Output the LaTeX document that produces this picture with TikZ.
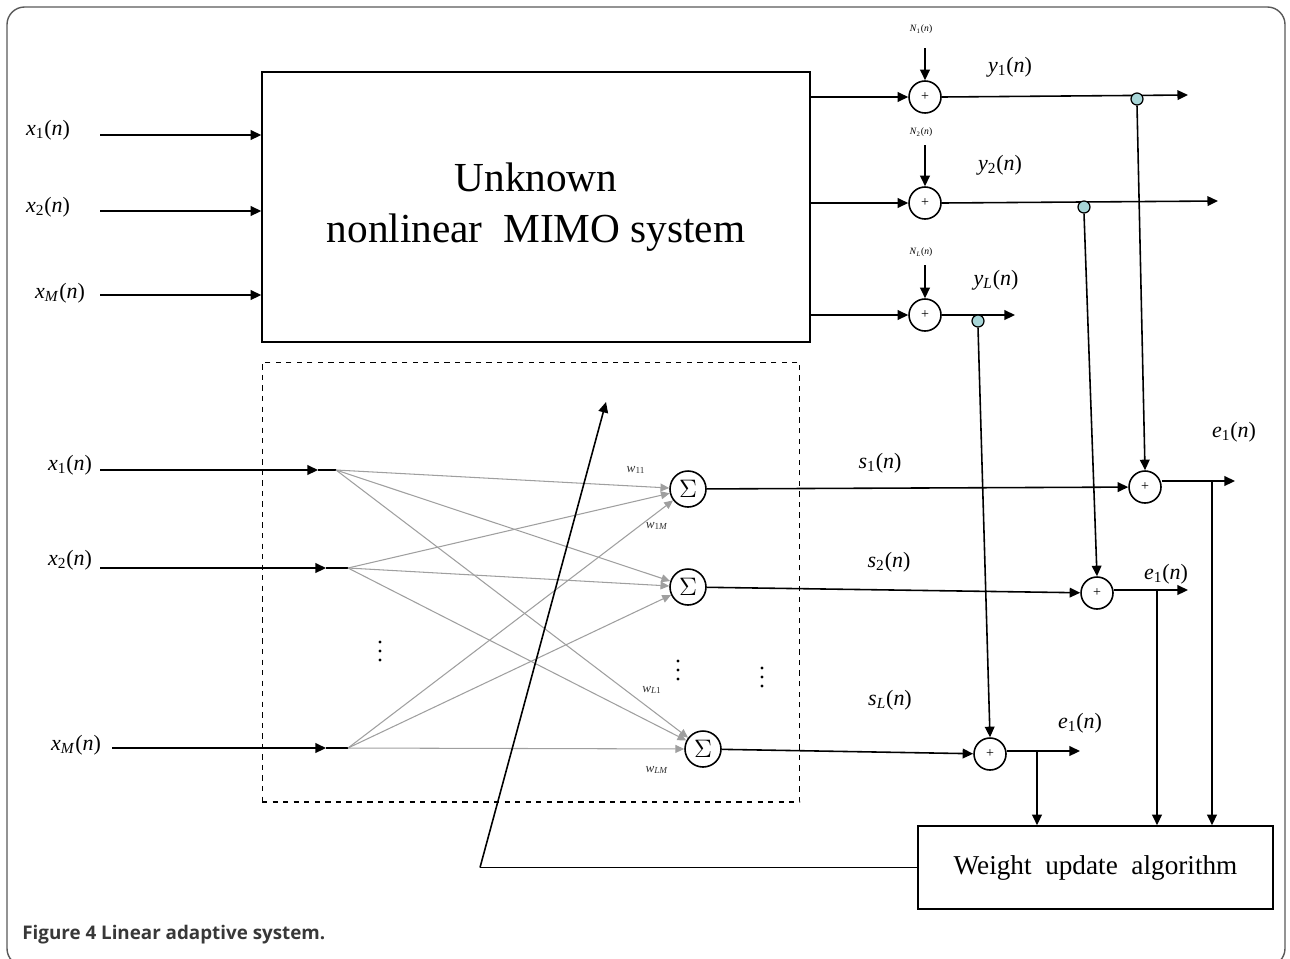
\documentclass[tikz,border=0pt]{standalone}
\usepackage{fontspec}
\setmainfont{Liberation Serif}
\newfontfamily\capfont{Open Sans}
\usetikzlibrary{arrows.meta, positioning, calc}

\newcommand{\sgl}[2]{\textit{#1}\textsubscript{#2}(\textit{n})}

\begin{document}
\begin{tikzpicture}[
    x=0.02cm, y=-0.02cm,
    sysbox/.style={
        rectangle,
        draw,
        line width=0.9pt,
        align=center
    },
    addnode/.style={
        circle,
        draw,
        line width=0.9pt,
        minimum size=0.64cm,
        inner sep=0pt,
        font=\fontsize{8}{9}\selectfont
    },
    signode/.style={
        circle,
        draw,
        line width=0.9pt,
        minimum size=0.72cm,
        inner sep=0pt,
        font=\fontsize{14}{15}\selectfont
    },
    tapnode/.style={
        circle,
        draw,
        line width=0.7pt,
        fill={rgb,255:red,168;green,214;blue,216},
        minimum size=0.24cm,
        inner sep=0pt
    },
    lbl/.style={
        font=\fontsize{12.5}{14}\selectfont,
        inner sep=0pt
    },
    noiselbl/.style={
        font=\fontsize{5.5}{6}\selectfont,
        inner sep=0pt
    },
    wlbl/.style={
        font=\fontsize{7.5}{8}\selectfont,
        inner sep=0pt,
        text=black!80
    },
    arrow/.style={
        -{Triangle[length=6pt,width=5.5pt]},
        line width=0.9pt
    },
    weight/.style={
        -{Triangle[length=5pt,width=4.5pt]},
        line width=0.6pt,
        draw=gray!75,
        color=gray!75
    }
]
\useasboundingbox (0,0) rectangle (1290,958);

% Frame and caption
\draw[rounded corners=10pt, line width=0.8pt, black!65] (7,7) rectangle (1285,966);
\node[anchor=west, inner sep=0pt, font=\capfont\bfseries\fontsize{10.7}{12}\selectfont, text=black!78] (caption) at (22,935) {Figure 4 Linear adaptive system.};

% Unknown system
\node[sysbox, minimum width=10.96cm, minimum height=5.4cm,
      font=\fontsize{23.5}{29}\selectfont] (sys) at (536,207) {Unknown\\nonlinear~~MIMO system};

\coordinate (in1) at (100,135);
\coordinate (in2) at (100,211);
\coordinate (in3) at (100,295);
\node[lbl] (lx1) at (48,130) {\sgl{x}{1}};
\node[lbl] (lx2) at (48,207) {\sgl{x}{2}};
\node[lbl] (lx3) at (60,293) {\sgl{x}{\textit{M}}};
\draw[arrow] (in1) -- (in1 -| sys.west);
\draw[arrow] (in2) -- (in2 -| sys.west);
\draw[arrow] (in3) -- (in3 -| sys.west);

% Noise sums
\node[addnode] (add1) at (925,97) {+};
\node[addnode] (add2) at (925,203) {+};
\node[addnode] (add3) at (925,315) {+};
\draw[arrow] (sys.east |- add1) -- (add1);
\draw[arrow] (sys.east |- add2) -- (add2);
\draw[arrow] (sys.east |- add3) -- (add3);

\coordinate (n1) at (925,48);
\coordinate (n2) at (925,145);
\coordinate (n3) at (925,265);
\node[noiselbl] (ln1) at (921,29) {\sgl{N}{1}};
\node[noiselbl] (ln2) at (921,132) {\sgl{N}{2}};
\node[noiselbl] (ln3) at (921,252) {\sgl{N}{\textit{L}}};
\draw[arrow] (n1) -- (add1);
\draw[arrow] (n2) -- (add2);
\draw[arrow] (n3) -- (add3);

% Plant outputs
\coordinate (y1end) at (1188,95);
\coordinate (y2end) at (1218,201);
\coordinate (y3end) at (1015,315);
\draw[arrow] (add1.east) -- (y1end);
\draw[arrow] (add2.east) -- (y2end);
\draw[arrow] (add3.east) -- (y3end);
\node[lbl] (ly1) at (1010,67) {\sgl{y}{1}};
\node[lbl] (ly2) at (1000,165) {\sgl{y}{2}};
\node[lbl] (ly3) at (996,280) {\sgl{y}{\textit{L}}};

% Linear adaptive part
\node[draw, dashed, line width=0.6pt, minimum width=10.76cm, minimum height=8.8cm] (linbox) at (531,582) {};

\coordinate (i1) at (100,470);
\coordinate (i2) at (100,568);
\coordinate (i3) at (112,748);
\coordinate (a1) at (318,470);
\coordinate (a2) at (326,568);
\coordinate (a3) at (326,748);
\coordinate (f1) at (336,470);
\coordinate (f2) at (348,568);
\coordinate (f3) at (348,748);
\node[lbl] (lxa) at (70,465) {\sgl{x}{1}};
\node[lbl] (lxb) at (70,560) {\sgl{x}{2}};
\node[lbl] (lxc) at (76,745) {\sgl{x}{\textit{M}}};
\draw[arrow] (i1) -- (a1);
\draw[arrow] (i2) -- (a2);
\draw[arrow] (i3) -- (a3);
\draw[line width=0.9pt] (a1) -- (f1);
\draw[line width=0.9pt] (a2) -- (f2);
\draw[line width=0.9pt] (a3) -- (f3);

\node[signode] (sg1) at (688,489) {$\Sigma$};
\node[signode] (sg2) at (688,587) {$\Sigma$};
\node[signode] (sg3) at (703,749) {$\Sigma$};

\foreach \f in {f1,f2,f3}
    \foreach \s in {sg1,sg2,sg3}
        \draw[weight] (\f) -- (\s);

\node[wlbl] (w11) at (636,470) {\textit{w}\textsubscript{11}};
\node[wlbl] (w1M) at (657,526) {\textit{w}\textsubscript{1\textit{M}}};
\node[wlbl] (wL1) at (652,690) {\textit{w}\textsubscript{\textit{L}1}};
\node[wlbl] (wLM) at (657,770) {\textit{w}\textsubscript{\textit{LM}}};

% vertical dots
\foreach \px/\py in {380/651, 678/670, 762/677}
    \foreach \k in {-9,0,9}
        \fill (\px,\py+\k) circle (0.95pt);

% Error sums
\node[addnode] (err1) at (1145,487) {+};
\node[addnode] (err2) at (1097,593) {+};
\node[addnode] (err3) at (990,754) {+};
\draw[arrow] (sg1) -- (err1);
\draw[arrow] (sg2) -- (err2);
\draw[arrow] (sg3) -- (err3);
\node[lbl] (ls1) at (880,463) {\sgl{s}{1}};
\node[lbl] (ls2) at (889,562) {\sgl{s}{2}};
\node[lbl] (ls3) at (890,700) {\sgl{s}{\textit{L}}};

% Taps
\node[tapnode] (t1) at (1137,99) {};
\node[tapnode] (t2) at (1084,207) {};
\node[tapnode] (t3) at (978,321) {};
\draw[arrow] (t1.south) -- (err1.north);
\draw[arrow] (t2.south) -- (err2.north);
\draw[arrow] (t3.south) -- (err3.north);

% Weight update
\node[sysbox, minimum width=7.1cm, minimum height=1.66cm,
      font=\fontsize{15.5}{18}\selectfont] (wupd) at (1095.5,867.5) {Weight~~update~~algorithm};

\coordinate (e1end) at (1235,481);
\coordinate (e2end) at (1188,590);
\coordinate (e3end) at (1080,751);
\draw[arrow] (err1.east |- e1end) -- (e1end);
\draw[arrow] (err2.east |- e2end) -- (e2end);
\draw[arrow] (err3.east |- e3end) -- (e3end);
\node[lbl] (le1) at (1234,432) {\sgl{e}{1}};
\node[lbl] (le2) at (1166,574) {\sgl{e}{1}};
\node[lbl] (le3) at (1080,723) {\sgl{e}{1}};

\coordinate (b1) at (1212,481);
\coordinate (b2) at (1157,590);
\coordinate (b3) at (1037,751);
\draw[arrow] (b1) -- (b1 |- wupd.north);
\draw[arrow] (b2) -- (b2 |- wupd.north);
\draw[arrow] (b3) -- (b3 |- wupd.north);

% Feedback to weights
\coordinate (fb) at (480,867.5);
\coordinate (fbend) at (606,402);
\draw[line width=0.9pt] (wupd.west) -- (fb);
\draw[arrow] (fb) -- (fbend);

\end{tikzpicture}
\end{document}
